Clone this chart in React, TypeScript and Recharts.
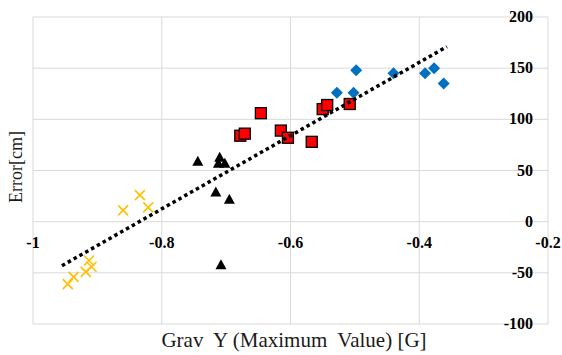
import { ScatterChart, Scatter, XAxis, YAxis, CartesianGrid } from "recharts";

const W = 562;
const H = 355;
const MARGIN = { top: 17, right: 13, bottom: 30, left: 33 };
const X_DOMAIN = [-1, -0.2];
const Y_DOMAIN = [-100, 200];
const X_TICKS = [-1, -0.8, -0.6, -0.4, -0.2];
const Y_TICKS = [-100, -50, 0, 50, 100, 150, 200];

// yellow crosses
const goldPts = [
  { x: -0.86, y: 11 },
  { x: -0.834, y: 26 },
  { x: -0.821, y: 14 },
  { x: -0.913, y: -38 },
  { x: -0.909, y: -44 },
  { x: -0.918, y: -49 },
  { x: -0.937, y: -54 },
  { x: -0.946, y: -61 },
];

// black triangles
const blackPts = [
  { x: -0.744, y: 59 },
  { x: -0.71, y: 63 },
  { x: -0.712, y: 57 },
  { x: -0.702, y: 57 },
  { x: -0.716, y: 29 },
  { x: -0.695, y: 22 },
  { x: -0.708, y: -42 },
];

// red squares
const redPts = [
  { x: -0.646, y: 106 },
  { x: -0.678, y: 84 },
  { x: -0.671, y: 86 },
  { x: -0.615, y: 89 },
  { x: -0.604, y: 82 },
  { x: -0.567, y: 78 },
  { x: -0.55, y: 110 },
  { x: -0.543, y: 114 },
  { x: -0.508, y: 115 },
];

// blue diamonds
const bluePts = [
  { x: -0.528, y: 126 },
  { x: -0.502, y: 126 },
  { x: -0.498, y: 148 },
  { x: -0.44, y: 145 },
  { x: -0.391, y: 145 },
  { x: -0.377, y: 150 },
  { x: -0.362, y: 135 },
];

// linear trendline ends
const trend = [
  { x: -0.955, y: -43 },
  { x: -0.357, y: 171 },
];

const SERIF = "'Liberation Serif', 'Times New Roman', serif";

const plotH = H - MARGIN.top - MARGIN.bottom - 1;
const plotRight = W - MARGIN.right - 1;
const zeroY = MARGIN.top + ((Y_DOMAIN[1] - 0) / (Y_DOMAIN[1] - Y_DOMAIN[0])) * plotH;

const tickStyle = {
  fontFamily: SERIF,
  fontWeight: 700,
  fontSize: 16,
  fill: "#000",
};

const XTick = (props: any) => (
  <text x={props.x} y={zeroY + 26.5} textAnchor="middle" style={tickStyle}>
    {String(props.payload.value)}
  </text>
);

const YTick = (props: any) => (
  <text x={plotRight - 15} y={props.y + 5} textAnchor="end" style={tickStyle}>
    {String(props.payload.value)}
  </text>
);

const Cross = ({ cx, cy }: any) => (
  <g stroke="#FFC000" strokeWidth={1.6}>
    <line x1={cx - 5} y1={cy - 5} x2={cx + 5} y2={cy + 5} />
    <line x1={cx - 5} y1={cy + 5} x2={cx + 5} y2={cy - 5} />
  </g>
);

const Triangle = ({ cx, cy }: any) => (
  <polygon
    points={`${cx},${cy - 5.5} ${cx + 5.5},${cy + 4.5} ${cx - 5.5},${cy + 4.5}`}
    fill="#000"
  />
);

const Square = ({ cx, cy }: any) => (
  <rect x={cx - 5.5} y={cy - 5.5} width={11} height={11} fill="#FF0000" stroke="#000" strokeWidth={1.3} />
);

const Diamond = ({ cx, cy }: any) => (
  <polygon points={`${cx},${cy - 6} ${cx + 6},${cy} ${cx},${cy + 6} ${cx - 6},${cy}`} fill="#0070C0" />
);

export default function App() {
  return (
    <div style={{ position: "absolute", left: 0, top: 0, width: W, height: H, background: "#fff" }}>
      <ScatterChart width={W} height={H} margin={MARGIN}>
        <CartesianGrid stroke="#D9D9D9" strokeWidth={1} />
        <XAxis
          type="number"
          dataKey="x"
          domain={X_DOMAIN}
          ticks={X_TICKS}
          height={1}
          axisLine={false}
          tickLine={false}
          tick={XTick}
          allowDataOverflow
        />
        <YAxis
          type="number"
          dataKey="y"
          orientation="right"
          domain={Y_DOMAIN}
          ticks={Y_TICKS}
          width={1}
          axisLine={false}
          tickLine={false}
          tick={YTick}
          allowDataOverflow
        />
        <Scatter data={goldPts} shape={Cross} isAnimationActive={false} />
        <Scatter data={blackPts} shape={Triangle} isAnimationActive={false} />
        <Scatter data={redPts} shape={Square} isAnimationActive={false} />
        <Scatter data={bluePts} shape={Diamond} isAnimationActive={false} />
        <Scatter
          data={trend}
          shape={() => <g />}
          line={{ stroke: "#000", strokeWidth: 3.5, strokeDasharray: "3.5 3.2" }}
          lineType="joint"
          isAnimationActive={false}
        />
      </ScatterChart>
      <div
        style={{
          position: "absolute",
          left: 16,
          top: 167,
          transform: "translate(-50%, -50%) rotate(-90deg)",
          fontFamily: SERIF,
          fontSize: 18,
          color: "#1a1a1a",
          whiteSpace: "nowrap",
          lineHeight: 1,
        }}
      >
        Error[cm]
      </div>
      <div
        style={{
          position: "absolute",
          left: 294,
          top: 340,
          transform: "translate(-50%, -50%)",
          fontFamily: SERIF,
          fontSize: 21,
          color: "#1a1a1a",
          whiteSpace: "pre",
          lineHeight: 1,
        }}
      >
        {"Grav  Y (Maximum  Value) [G]"}
      </div>
    </div>
  );
}
